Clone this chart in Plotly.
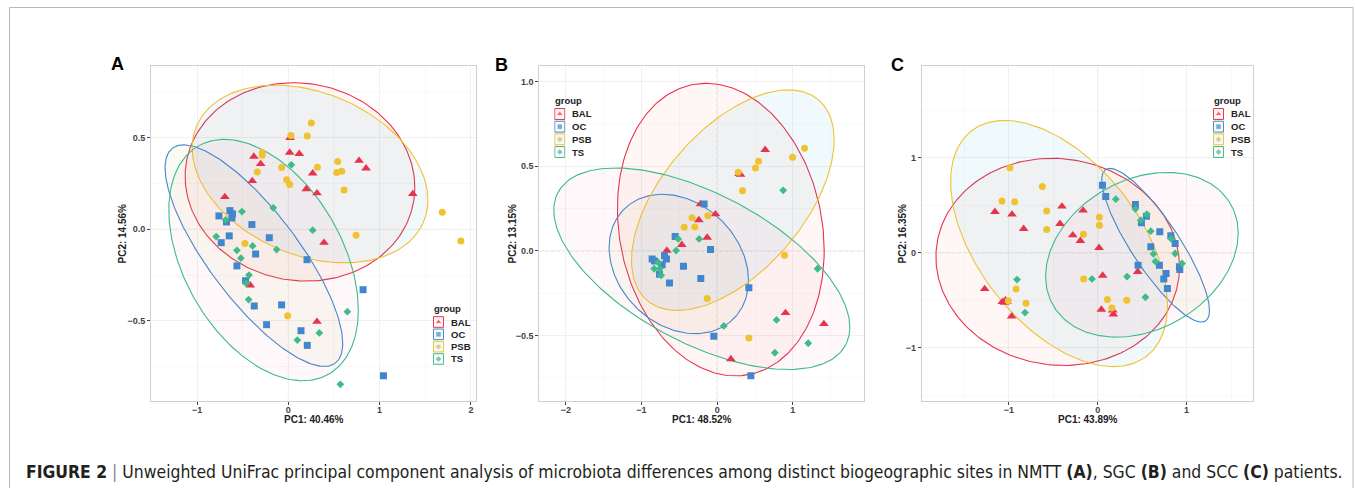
import numpy as np
import plotly.graph_objects as go

W, H = 1355, 488
groups = ["BAL", "OC", "PSB", "TS"]
colors = {"BAL": "#E8334C", "OC": "#4287CC", "PSB": "#EFC232", "TS": "#3DBB89"}
fills = {"BAL": "rgba(248,118,109,0.06)", "OC": "rgba(150,170,40,0.05)",
         "PSB": "rgba(0,150,196,0.06)", "TS": "rgba(240,120,150,0.05)"}
symbols = {"BAL": "triangle-up", "OC": "square", "PSB": "circle", "TS": "diamond"}
msize = {"BAL": 8.5, "OC": 7, "PSB": 7, "TS": 6}

# ---------------- Panel A (NMTT) ----------------
A_BAL_x = [0.02, -0.377, -0.303, -0.395, -0.695, 0.015, 0.12, 0.267, 0.197, 0.314, 0.775, 0.852, 1.364, 0.391, -0.417, 0.314]
A_BAL_y = [0.50, 0.397, 0.357, 0.264, 0.177, 0.419, 0.412, 0.306, 0.220, 0.197, 0.375, 0.333, 0.193, -0.073, -0.306, -0.505]
A_OC_x = [-0.760, -0.640, -0.677, -0.611, -0.618, -0.399, -0.647, -0.735, -0.208, -0.358, -0.563, -0.468, -0.373, -0.073, 0.205, 0.819, -0.238, 0.139, 0.208, 1.042]
A_OC_y = [0.073, 0.102, 0.040, 0.084, 0.062, 0.026, -0.036, -0.073, -0.046, -0.135, -0.200, -0.281, -0.419, -0.413, -0.166, -0.330, -0.521, -0.554, -0.634, -0.800]
A_PSB_x = [0.252, 0.029, 0.208, -0.285, -0.285, -0.340, -0.073, -0.018, 0.015, 0.318, 0.541, 0.585, 0.530, 0.611, 0.742, 1.686, 1.890, -0.475, -0.007]
A_PSB_y = [0.581, 0.512, 0.510, 0.419, 0.404, 0.313, 0.337, 0.271, 0.244, 0.339, 0.370, 0.317, 0.310, 0.215, -0.033, 0.093, -0.064, -0.078, -0.472]
A_TS_x = [0.033, -0.165, -0.508, -0.687, -0.790, 0.267, -0.391, -0.128, -0.563, -0.519, -0.431, -0.461, -0.435, 0.647, 0.340, 0.099, 0.570]
A_TS_y = [0.352, 0.117, 0.097, 0.051, -0.040, -0.005, -0.091, -0.111, -0.115, -0.158, -0.250, -0.295, -0.384, -0.450, -0.566, -0.605, -0.847]

# ---------------- Panel B (SGC) ----------------
B_BAL_x = [-0.220, -0.022, -0.242, -0.132, -0.467, -0.665, 0.291, 0.308, 0.634, 0.903, 1.410, 0.181]
B_BAL_y = [0.277, 0.217, 0.182, 0.079, 0.036, 0.002, 0.455, 0.451, 0.597, -0.366, -0.431, -0.638]
B_OC_x = [-0.172, -0.555, -0.088, -0.696, -0.670, -0.859, -0.828, -0.727, -0.762, -0.445, -0.630, -0.216, 0.419, -0.044, 0.445]
B_OC_y = [0.277, 0.085, 0.008, -0.028, -0.047, -0.047, -0.059, -0.081, -0.138, -0.091, -0.190, -0.162, -0.217, -0.504, -0.737]
B_PSB_x = [0.278, 0.546, 0.507, 0.335, 0.996, 1.154, -0.330, -0.436, -0.295, -0.123, 0.890, -0.132, 0.419]
B_PSB_y = [0.464, 0.530, 0.490, 0.356, 0.553, 0.607, 0.196, 0.140, 0.142, 0.208, -0.026, -0.281, -0.514]
B_TS_x = [-0.515, -0.238, -0.542, -0.780, -0.833, -0.758, -0.740, 0.872, 1.326, 0.088, 0.784, 1.203, 0.762]
B_TS_y = [0.071, 0.071, 0.002, -0.067, -0.105, -0.105, -0.144, 0.358, -0.105, -0.443, -0.407, -0.545, -0.601]

# ---------------- Panel C (SCC) ----------------
C_BAL_x = [-1.156, -0.964, -0.833, -1.272, -1.073, -1.039, -1.021, -1.047, -0.968, -0.402, -0.424, -0.281, -0.195, -0.165, 0.015, 0.056, 0.041, 0.169, 0.176, 0.450]
C_BAL_y = [0.432, 0.404, 0.253, -0.379, -0.516, -0.498, -0.516, -0.523, -0.667, 0.488, 0.305, 0.186, 0.126, 0.446, 0.053, -0.239, -0.596, -0.604, -0.646, -0.200]
C_OC_x = [0.053, 0.090, 0.424, 0.548, 0.492, 0.698, 0.822, 0.871, 0.597, 0.454, 0.694, 0.769, 0.743, 0.784, 0.919, 0.923]
C_OC_y = [0.712, 0.593, 0.509, 0.386, 0.316, 0.221, 0.179, 0.098, 0.063, -0.130, -0.130, -0.218, -0.274, -0.375, -0.147, -0.175]
C_PSB_x = [-0.987, -0.623, -1.077, -0.934, -0.574, -0.574, -0.161, 0.019, 0.019, -0.158, -0.919, -1.006, -0.807, 0.109, 0.158, 0.326]
C_PSB_y = [0.895, 0.698, 0.544, 0.537, 0.439, 0.246, 0.196, 0.375, 0.291, -0.274, -0.379, -0.505, -0.530, -0.491, -0.579, -0.498]
C_TS_x = [0.203, 0.424, 0.552, 0.484, 0.597, 0.826, 0.627, 0.871, 0.649, 0.949, 0.330, 0.537, -0.064, -0.908, -0.818]
C_TS_y = [0.565, 0.460, 0.407, 0.344, 0.228, 0.147, -0.011, -0.007, -0.091, -0.112, -0.249, -0.467, -0.274, -0.281, -0.628]

# Ellipse parameters: centre (cx, cy), conjugate semi-diameter (ux, uy), vertical half-chord k
A_ell = {"BAL": (0.128, 0.259, 1.258, -0.03, 0.541), "OC": (-0.377, -0.144, 0.973, -0.479, 0.37),
         "PSB": (0.238, 0.302, 1.291, -0.142, 0.464), "TS": (-0.271, -0.168, 1.038, -0.273, 0.60)}
B_ell = {"BAL": (0.048, 0.126, 1.366, -0.123, 0.855), "OC": (-0.507, -0.077, 0.921, -0.097, 0.40),
         "PSB": (0.207, 0.300, 1.339, 0.356, 0.545), "TS": (-0.203, -0.105, 1.956, -0.346, 0.484)}
C_ell = {"BAL": (-0.450, -0.095, 1.370, -0.053, 1.088), "OC": (0.651, 0.08, 0.606, -0.686, 0.427),
         "PSB": (-0.435, 0.098, 1.220, -0.649, 1.12), "TS": (0.497, -0.02, 1.083, 0.227, 0.836)}

panels = [
    {"letter": "A", "xtitle": "PC1: 40.46%", "ytitle": "PC2: 14.56%",
     "pts": {"BAL": (A_BAL_x, A_BAL_y), "OC": (A_OC_x, A_OC_y), "PSB": (A_PSB_x, A_PSB_y), "TS": (A_TS_x, A_TS_y)},
     "ell": A_ell, "xr": [-1.504, 2.056], "yr": [-0.938, 0.892],
     "xt": [-1, 0, 1, 2], "yt": [-0.5, 0.0, 0.5], "ytl": ["−0.5", "0.0", "0.5"], "xm": 0.5, "ym": 0.25,
     "px": (151, 476), "letter_xy": (117.5, 64), "ytitle_x": 122,
     "leg": (433, 322, 12.33, 308)},
    {"letter": "B", "xtitle": "PC1: 48.52%", "ytitle": "PC2: 13.15%",
     "pts": {"BAL": (B_BAL_x, B_BAL_y), "OC": (B_OC_x, B_OC_y), "PSB": (B_PSB_x, B_PSB_y), "TS": (B_TS_x, B_TS_y)},
     "ell": B_ell, "xr": [-2.35, 1.94], "yr": [-0.886, 1.092],
     "xt": [-2, -1, 0, 1], "yt": [-0.5, 0.0, 0.5, 1.0], "ytl": ["−0.5", "0.0", "0.5", "1.0"], "xm": 0.5, "ym": 0.25,
     "px": (539.3, 864), "letter_xy": (502, 65), "ytitle_x": 512,
     "leg": (554.3, 114, 12.67, 100)},
    {"letter": "C", "xtitle": "PC1: 43.89%", "ytitle": "PC2: 16.35%",
     "pts": {"BAL": (C_BAL_x, C_BAL_y), "OC": (C_OC_x, C_OC_y), "PSB": (C_PSB_x, C_PSB_y), "TS": (C_TS_x, C_TS_y)},
     "ell": C_ell, "xr": [-1.98, 1.75], "yr": [-1.558, 1.965],
     "xt": [-1, 0, 1], "yt": [-1, 0, 1], "ytl": ["−1", "0", "1"], "xm": 0.5, "ym": 0.5,
     "px": (921.7, 1253.3), "letter_xy": (897, 65), "ytitle_x": 902,
     "leg": (1213, 114, 12.67, 100)},
]

PY0, PY1 = 66, 401  # plot area top/bottom in px

def fx(px):
    return px / W

def fy(py):
    return 1 - py / H

fig = go.Figure()
layout = dict(width=W, height=H, margin=dict(l=0, r=0, t=0, b=0),
              paper_bgcolor="white", plot_bgcolor="white", showlegend=False,
              shapes=[], annotations=[])
t = np.linspace(0, 2 * np.pi, 240)
FONT = "Liberation Sans, Arial, sans-serif"

for i, p in enumerate(panels):
    n = i + 1
    xa, ya = ("x" if n == 1 else f"x{n}"), ("y" if n == 1 else f"y{n}")
    xk, yk = ("xaxis" if n == 1 else f"xaxis{n}"), ("yaxis" if n == 1 else f"yaxis{n}")
    common = dict(showline=True, mirror=True, linecolor="#CFCFCF", linewidth=1,
                  showgrid=True, gridcolor="#F0F0F0", gridwidth=1, zeroline=False,
                  ticks="outside", ticklen=3, tickcolor="#444", tickwidth=1,
                  tickfont=dict(family=FONT, size=9, color="#444", weight="bold"))
    layout[xk] = dict(common, domain=[fx(p["px"][0]), fx(p["px"][1])], range=p["xr"], anchor=ya,
                      tickvals=p["xt"], ticktext=[("−" + str(-v)) if v < 0 else str(v) for v in p["xt"]],
                      ticklabelstandoff=-3,
                      minor=dict(dtick=p["xm"], tick0=0, showgrid=True, gridcolor="#F8F8F8", ticks=""))
    layout[yk] = dict(common, domain=[fy(PY1), fy(PY0)], range=p["yr"], anchor=xa,
                      tickvals=p["yt"], ticktext=p["ytl"],
                      minor=dict(dtick=p["ym"], tick0=0, showgrid=True, gridcolor="#F8F8F8", ticks=""))
    # dotted zero lines
    layout["shapes"].append(dict(type="line", xref=xa, yref=f"{ya} domain", x0=0, x1=0, y0=0, y1=1,
                                 line=dict(color="#D4D4D4", width=1, dash="dot"), layer="below"))
    layout["shapes"].append(dict(type="line", xref=f"{xa} domain", yref=ya, x0=0, x1=1, y0=0, y1=0,
                                 line=dict(color="#D4D4D4", width=1, dash="dot"), layer="below"))
    # ellipses
    for g in groups:
        cx, cy, ux, uy, k = p["ell"][g]
        ex = cx + ux * np.cos(t)
        ey = cy + uy * np.cos(t) + k * np.sin(t)
        fig.add_trace(go.Scatter(x=ex, y=ey, mode="lines", fill="toself", fillcolor=fills[g],
                                 line=dict(color=colors[g], width=1.1), xaxis=xa, yaxis=ya,
                                 hoverinfo="skip"))
    # points
    for g in groups:
        xs, ys = p["pts"][g]
        fig.add_trace(go.Scatter(x=xs, y=ys, mode="markers", name=g, xaxis=xa, yaxis=ya,
                                 marker=dict(symbol=symbols[g], size=msize[g], color=colors[g],
                                             line=dict(width=0))))
    # panel letter
    lx, ly = p["letter_xy"]
    layout["annotations"].append(dict(text=f"<b>{p['letter']}</b>", x=fx(lx), y=fy(ly), xref="paper", yref="paper",
                                      showarrow=False, font=dict(family=FONT, size=18, color="black"),
                                      xanchor="center", yanchor="middle"))
    # axis titles
    cxp = (p["px"][0] + p["px"][1]) / 2
    layout["annotations"].append(dict(text=f"<b>{p['xtitle']}</b>", x=fx(cxp), y=fy(419), xref="paper", yref="paper",
                                      showarrow=False, font=dict(family=FONT, size=10, color="#222"),
                                      xanchor="center", yanchor="middle"))
    layout["annotations"].append(dict(text=f"<b>{p['ytitle']}</b>", x=fx(p["ytitle_x"]), y=fy((PY0 + PY1) / 2),
                                      xref="paper", yref="paper", textangle=-90,
                                      showarrow=False, font=dict(family=FONT, size=10, color="#222"),
                                      xanchor="center", yanchor="middle"))
    # legend (custom, ggplot style)
    kx, r0, sp, ty = p["leg"]
    ln = n + 3
    lxa, lya = f"x{ln}", f"y{ln}"
    layout[f"xaxis{ln}"] = dict(domain=[fx(kx), fx(kx + 11)], range=[0, 1], visible=False, anchor=lya, fixedrange=True)
    layout[f"yaxis{ln}"] = dict(domain=[fy(r0 + 3.5 * sp), fy(r0 - 0.5 * sp)], range=[3.5, -0.5], visible=False,
                                anchor=lxa, fixedrange=True)
    layout["annotations"].append(dict(text="<b>group</b>", x=fx(kx - 1), y=fy(ty), xref="paper", yref="paper",
                                      showarrow=False, font=dict(family=FONT, size=9.5, color="#222"),
                                      xanchor="left", yanchor="middle"))
    for j, g in enumerate(groups):
        layout["shapes"].append(dict(type="rect", xref=lxa, yref=lya, x0=0.04, x1=0.96, y0=j - 0.43, y1=j + 0.43,
                                     line=dict(color=colors[g], width=1), fillcolor=fills[g]))
        layout["annotations"].append(dict(text=f"<b>{g}</b>", x=fx(kx + 16), y=fy(r0 + j * sp), xref="paper",
                                          yref="paper", showarrow=False,
                                          font=dict(family=FONT, size=9.5, color="#222"),
                                          xanchor="left", yanchor="middle"))
    fig.add_trace(go.Scatter(x=[0.5] * 4, y=list(range(4)), mode="markers", xaxis=lxa, yaxis=lya,
                             marker=dict(symbol=[symbols[g] for g in groups],
                                         size=[6.5, 5.5, 5.5, 5], color=[colors[g] for g in groups]),
                             hoverinfo="skip"))

# outer frame
layout["shapes"].append(dict(type="rect", xref="paper", yref="paper", x0=fx(9.5), x1=fx(1353), y0=-0.2, y1=fy(7.5),
                             line=dict(color="#B8B8B8", width=1), fillcolor="rgba(0,0,0,0)"))
# caption
caption = ("<b>FIGURE 2</b> <span style='color:#888'>|</span> Unweighted UniFrac principal component analysis of "
           "microbiota differences among distinct biogeographic sites in NMTT <b>(A)</b>, SGC <b>(B)</b> and "
           "SCC <b>(C)</b> patients.")
layout["annotations"].append(dict(text=caption, x=fx(24), y=fy(472), xref="paper", yref="paper", showarrow=False,
                                  font=dict(family="Liberation Sans Narrow, DejaVu Sans Condensed, Arial Narrow, sans-serif",
                                            size=17.4, color="#231F20"),
                                  xanchor="left", yanchor="middle"))

fig.update_layout(**layout)
fig.write_html("out.html", config={"displayModeBar": False},
               post_script="document.body.style.margin='0';document.body.style.overflow='hidden';")
